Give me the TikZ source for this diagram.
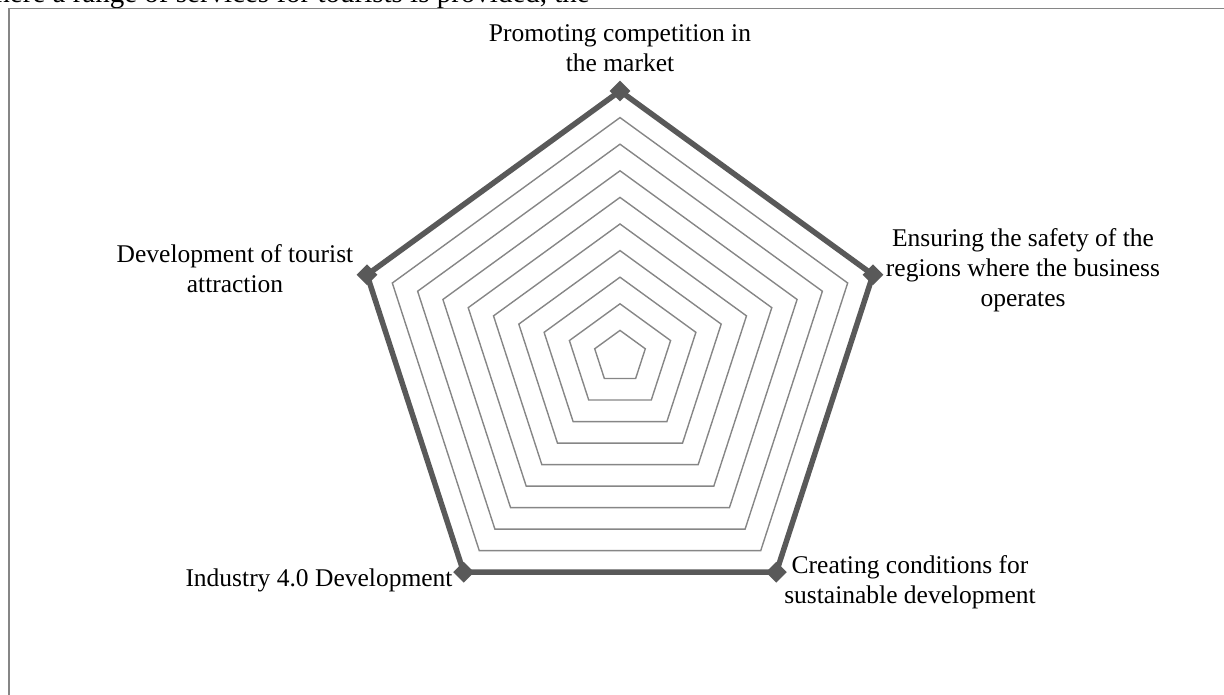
\documentclass[tikz,border=0pt]{standalone}
\usepackage{fontspec}
\setmainfont{Liberation Serif}
\usetikzlibrary{shapes.geometric}
\definecolor{gridgray}{RGB}{134,134,134}
\definecolor{seriesgray}{RGB}{89,89,89}
\begin{document}
\begin{tikzpicture}[x=1pt,y=1pt,
  gridline/.style={draw=gridgray, line width=1.4pt},
  series/.style={draw=seriesgray, line width=5.5pt, line join=miter},
  marker/.style={diamond, fill=seriesgray, inner sep=0pt, minimum size=21pt},
  lbl/.style={font=\fontsize{25.5}{30}\selectfont, align=center, inner sep=0pt}]
  \useasboundingbox (0,0) rectangle (1224,694);
  \clip (0,0) rectangle (1224,694);
  % text of the page above the chart
  \node[lbl, font=\fontsize{29}{34}\selectfont, anchor=base east] (pagetext) at (590,691) {here a range of services for tourists is provided, the};
  % chart frame
  \draw [gridgray, line width=1.5pt] (9,-20) -- (9,685.5) -- (1240,685.5);
  \begin{scope}[shift={(620,337)}]
    % grid rings
    \foreach \r in {1,...,10}
      \draw [gridline] (90:\r*26.6) -- (162:\r*26.6) -- (234:\r*26.6) -- (306:\r*26.6) -- (18:\r*26.6) -- cycle;
    % data series
    \draw [series] (90:266) -- (162:266) -- (234:266) -- (306:266) -- (18:266) -- cycle;
    \node[marker] (competition) at (90:266) {};
    \node[marker] (attraction) at (162:266) {};
    \node[marker] (industry) at (234:266) {};
    \node[marker] (sustainable) at (306:266) {};
    \node[marker] (safety) at (18:266) {};
  \end{scope}
  % axis labels (base = last line)
  \node[lbl, anchor=base] (lcompetition) at (620,622) {Promoting competition in\\the market};
  \node[lbl, anchor=base] (lattraction) at (235,401) {Development of tourist\\attraction};
  \node[lbl, anchor=base] (lsafety) at (1023,387) {Ensuring the safety of the\\regions where the business\\operates};
  \node[lbl, anchor=base] (lsustainable) at (910,91) {Creating conditions for\\sustainable development};
  \node[lbl, anchor=base] (lindustry) at (319,107) {Industry 4.0 Development};
\end{tikzpicture}
\end{document}
